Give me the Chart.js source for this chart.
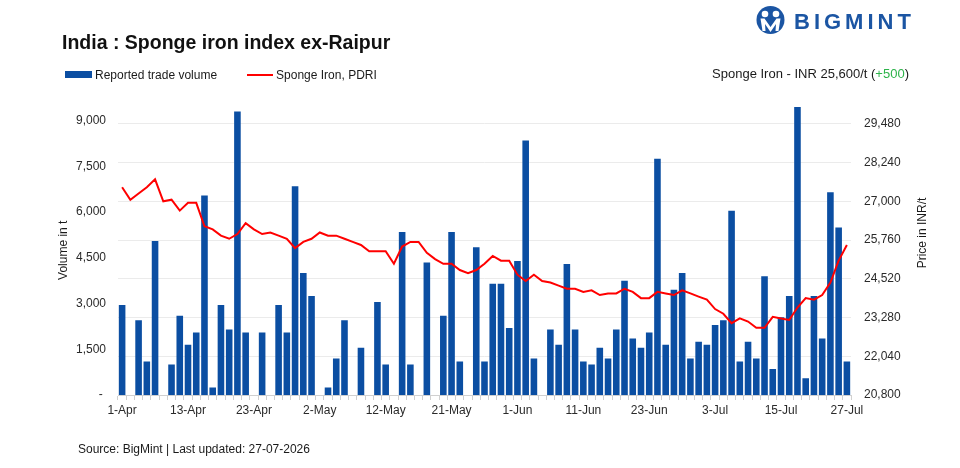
<!DOCTYPE html>
<html>
<head>
<meta charset="utf-8">
<title>India : Sponge iron index ex-Raipur</title>
<script src="https://cdn.jsdelivr.net/npm/chart.js@4.4.1/dist/chart.umd.min.js"></script>
<style>
  html, body { margin: 0; padding: 0; background: #fff; }
  #wrap { position: relative; width: 960px; height: 468px; overflow: hidden; font-family: "Liberation Sans", Arial, sans-serif; color: #1a1a1a; }
  #chart { position: absolute; left: 0; top: 0; }
  .txt { position: absolute; white-space: nowrap; line-height: 1; }
  #title { left: 62px; top: 33px; font-size: 19.5px; font-weight: bold; color: #111; }
  #legend { left: 65px; top: 69px; font-size: 12px; }
  #legend span.box { display: inline-block; width: 27px; height: 7px; background: #0b4ea2; vertical-align: 1px; margin-right: 3px; }
  #legend span.line { display: inline-block; width: 26px; height: 2px; background: #ff0000; vertical-align: 3px; margin-left: 30px; margin-right: 3px; }
  #note { right: 51px; top: 67px; font-size: 13px; }
  #note .up { color: #2db34a; }
  #source { left: 78px; top: 443px; font-size: 12px; }
  #logo { left: 755px; top: 6px; width: 31px; height: 28px; }
  #brand { left: 794px; top: 11px; font-size: 22px; line-height: 22px; font-weight: bold; letter-spacing: 4px; color: #1b55a3; }
</style>
</head>
<body>
<div id="wrap">
  <canvas id="chart" width="960" height="468"></canvas>
  <div class="txt" id="title">India : Sponge iron index ex-Raipur</div>
  <div class="txt" id="legend"><span class="box"></span>Reported trade volume<span class="line"></span>Sponge Iron, PDRI</div>
  <div class="txt" id="note">Sponge Iron - INR 25,600/t (<span class="up">+500</span>)</div>
  <div class="txt" id="source">Source: BigMint | Last updated: 27-07-2026</div>
  <svg class="txt" id="logo" viewBox="0 0 31 28">
    <circle cx="15.5" cy="14" r="14" fill="#1b55a3"/>
    <circle cx="10" cy="8" r="3.3" fill="#fff"/>
    <circle cx="21" cy="8" r="3.3" fill="#fff"/>
    <path d="M5.5 12.5 L9.5 12.5 L15.5 21 L21.5 12.5 L25.5 12.5 L23.5 25 L20.5 25 L21 18 L15.5 26 L10 18 L10.5 25 L7.5 25 Z" fill="#fff"/>
  </svg>
  <div class="txt" id="brand">BIGMINT</div>
</div>
<script>
// trading days shown on the x axis (only every 8th one gets a label)
const days = [
  '1-Apr', '2-Apr', '4-Apr', '6-Apr', '7-Apr', '8-Apr', '9-Apr', '10-Apr', '13-Apr',
  '15-Apr', '16-Apr', '17-Apr', '18-Apr', '20-Apr', '21-Apr', '22-Apr', '23-Apr',
  '24-Apr', '25-Apr', '27-Apr', '28-Apr', '29-Apr', '30-Apr', '1-May', '2-May',
  '4-May', '5-May', '6-May', '7-May', '8-May', '9-May', '11-May', '12-May',
  '13-May', '14-May', '15-May', '16-May', '18-May', '19-May', '20-May', '21-May',
  '22-May', '23-May', '25-May', '26-May', '28-May', '29-May', '30-May', '1-Jun',
  '2-Jun', '3-Jun', '4-Jun', '5-Jun', '8-Jun', '9-Jun', '10-Jun', '11-Jun',
  '12-Jun', '15-Jun', '16-Jun', '17-Jun', '18-Jun', '19-Jun', '22-Jun', '23-Jun',
  '24-Jun', '25-Jun', '26-Jun', '29-Jun', '30-Jun', '1-Jul', '2-Jul', '3-Jul',
  '6-Jul', '7-Jul', '8-Jul', '9-Jul', '10-Jul', '13-Jul', '14-Jul', '15-Jul',
  '16-Jul', '17-Jul', '20-Jul', '21-Jul', '22-Jul', '23-Jul', '24-Jul', '27-Jul'
];

// reported trade volume, t (null = no trade reported)
const volume = [
  2950, null, 2450, 1100, 5050, null, 1000, 2600, 1650,
  2050, 6550, 250, 2950, 2150, 9300, 2050, null,
  2050, null, 2950, 2050, 6850, 4000, 3250, null,
  250, 1200, 2450, null, 1550, null, 3050, 1000,
  null, 5350, 1000, null, 4350, null, 2600, 5350,
  1100, null, 4850, 1100, 3650, 3650, 2200, 4400,
  8350, 1200, null, 2150, 1650, 4300, 2150, 1100,
  1000, 1550, 1200, 2150, 3750, 1850, 1550, 2050,
  7750, 1650, 3450, 4000, 1200, 1750, 1650, 2300,
  2450, 6050, 1100, 1750, 1200, 3900, 850, 2550,
  3250, 9450, 550, 3250, 1850, 6650, 5500, 1100
];

// Sponge Iron PDRI, INR/t
const price = [
  27450, 27050, 27250, 27450, 27700, 27000, 27050, 26700, 26950,
  26950, 26200, 26100, 25900, 25800, 25950, 26300, 26100,
  25950, 26000, 25900, 25800, 25500, 25700, 25800, 26000,
  25900, 25900, 25800, 25700, 25600, 25400, 25400, 25400,
  25000, 25550, 25700, 25700, 25350, 25150, 25000, 25000,
  24800, 24700, 24800, 25000, 25250, 25100, 25100, 24650,
  24450, 24650, 24450, 24400, 24300, 24200, 24200, 24100,
  24150, 24000, 24050, 24050, 24200, 24100, 23900, 23900,
  24100, 24050, 24000, 24150, 24050, 23950, 23850, 23550,
  23400, 23100, 23250, 23150, 22950, 22950, 23300, 23250,
  23200, 23600, 23900, 23850, 24000, 24400, 25100, 25600
];

const volumeTicks = [0, 1500, 3000, 4500, 6000, 7500, 9000];
const priceTicks = [20800, 22040, 23280, 24520, 25760, 27000, 28240, 29480];
const labelEvery = 8;

// right axis title reads bottom-to-top like the left one
const rightTitle = {
  id: 'rightTitle',
  afterDraw(chart) {
    const ctx = chart.ctx;
    ctx.save();
    ctx.translate(923, 233);
    ctx.rotate(-Math.PI / 2);
    ctx.font = '12px "Liberation Sans", Arial, sans-serif';
    ctx.fillStyle = '#1a1a1a';
    ctx.textAlign = 'center';
    ctx.textBaseline = 'middle';
    ctx.fillText('Price in INR/t', 0, 0);
    ctx.restore();
  }
};

Chart.defaults.font.family = '"Liberation Sans", Arial, sans-serif';
Chart.defaults.font.size = 12;
Chart.defaults.color = '#2a2a2a';

let ctx = document.getElementById('chart').getContext('2d');

let chart = new Chart(ctx, {
  type: 'bar',
  data: {
    labels: days,
    datasets: [{
      type: 'line',
      label: 'Sponge Iron, PDRI',
      data: price,
      yAxisID: 'y1',
      borderColor: '#ff0000',
      borderWidth: 2,
      pointRadius: 0,
      tension: 0,
      order: 0
    }, {
      label: 'Reported trade volume',
      data: volume,
      yAxisID: 'y',
      backgroundColor: '#0b4ea2',
      barPercentage: 0.8,
      categoryPercentage: 1.0,
      order: 1
    }]
  },
  options: {
    responsive: false,
    animation: false,
    layout: { padding: { top: 105.5, left: 0, right: 0, bottom: 0 } },
    plugins: {
      legend: { display: false },
      title: { display: false },
      tooltip: { enabled: false }
    },
    scales: {
      x: {
        grid: { display: true, drawOnChartArea: false, drawTicks: true, tickLength: 5, color: '#d0d0d0', offset: true },
        border: { display: true, color: '#d0d0d0' },
        ticks: {
          autoSkip: false,
          maxRotation: 0,
          padding: 3,
          callback: function(value, index) {
            return index % labelEvery === 0 ? days[index] : '';
          }
        },
        afterFit: function(scale) { scale.height = 73; }
      },
      y: {
        position: 'left',
        min: 0,
        max: 9500,
        grid: { display: false, drawTicks: false },
        border: { display: false },
        ticks: {
          padding: 12,
          callback: function(v) { return v === 0 ? '- ' : v.toLocaleString('en-US'); }
        },
        afterBuildTicks: function(scale) { scale.ticks = volumeTicks.map(v => ({ value: v })); },
        title: { display: true, text: 'Volume in t', color: '#1a1a1a', padding: { top: 56, bottom: 0 } },
        afterFit: function(scale) { scale.width = 118; }
      },
      y1: {
        position: 'right',
        min: 20800,
        max: 30064,
        grid: { display: true, drawOnChartArea: true, drawTicks: false, color: '#ebebeb' },
        border: { display: false },
        ticks: {
          padding: 13,
          callback: function(v) { return v.toLocaleString('en-US'); }
        },
        afterBuildTicks: function(scale) { scale.ticks = priceTicks.map(v => ({ value: v })); },
        afterFit: function(scale) { scale.width = 109; }
      }
    }
  },
  plugins: [rightTitle]
});
</script>
</body>
</html>
